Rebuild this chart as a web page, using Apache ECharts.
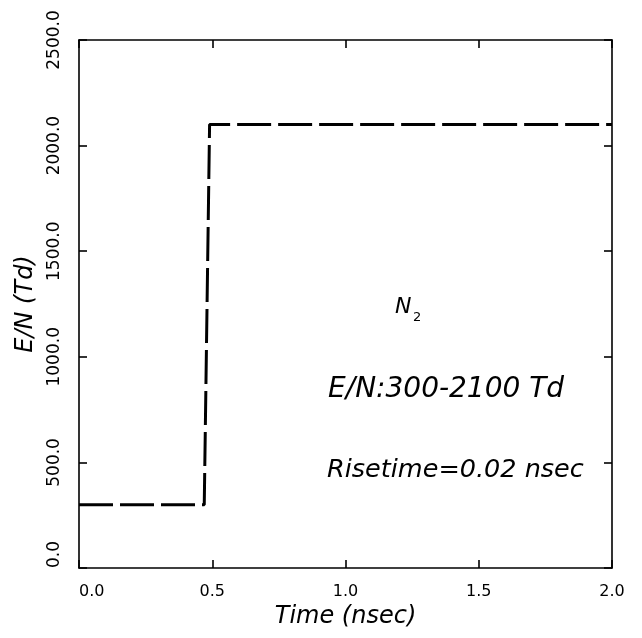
<!DOCTYPE html>
<html>
<head>
<meta charset="utf-8">
<script src="https://cdn.jsdelivr.net/npm/echarts@6/dist/echarts.min.js"></script>
<style>html,body{margin:0;padding:0;background:#fff;}#c{width:642px;height:638px;}</style>
</head>
<body>
<div id="c"></div>
<script>
// Data
var timeNs = [0.0, 0.47, 0.49, 2.0];
var eOverN = [300, 300, 2100, 2100];
var xTicks = [0.0, 0.5, 1.0, 1.5, 2.0];
var yTicks = [0.0, 500.0, 1000.0, 1500.0, 2000.0, 2500.0];
var xName = 'Time (nsec)';
var yName = 'E/N (Td)';
var noteGas = 'N';
var noteGasSub = '2';
var noteRange = 'E/N:300-2100 Td';
var noteRise = 'Risetime=0.02 nsec';

var FONT = 'DejaVu Sans';
var chart = echarts.init(document.getElementById('c'), null, {renderer: 'canvas'});
var pts = timeNs.map(function (t, i) { return [t, eOverN[i]]; });
var axLine = {show: true, onZero: false, lineStyle: {color: '#000', width: 1.6}};
var tick = {show: true, inside: true, length: 8, lineStyle: {color: '#000', width: 1.6}};

chart.setOption({
  backgroundColor: '#fff',
  animation: false,
  grid: {left: 79, right: 30, top: 40, bottom: 70},
  xAxis: [{
    type: 'value', min: xTicks[0], max: xTicks[xTicks.length - 1], interval: 0.5,
    position: 'bottom',
    axisLine: axLine, axisTick: tick, splitLine: {show: false},
    axisLabel: {color: '#000', fontFamily: FONT, fontSize: 16, margin: 16,
      alignMinLabel: 'left',
      formatter: function (v) { return v.toFixed(1); }},
    name: xName, nameLocation: 'middle', nameGap: 37,
    nameTextStyle: {color: '#000', fontFamily: FONT, fontStyle: 'italic', fontSize: 24}
  }, {
    type: 'value', min: xTicks[0], max: xTicks[xTicks.length - 1], interval: 0.5,
    position: 'top',
    axisLine: axLine, axisTick: tick, splitLine: {show: false}, axisLabel: {show: false}
  }],
  yAxis: [{
    type: 'value', min: yTicks[0], max: yTicks[yTicks.length - 1], interval: 500,
    position: 'left',
    axisLine: axLine, axisTick: tick, splitLine: {show: false},
    axisLabel: {color: '#000', fontFamily: FONT, fontSize: 17, margin: 16, rotate: 90,
      alignMinLabel: 'left',
      formatter: function (v) { return v.toFixed(1); }},
    name: yName, nameLocation: 'middle', nameGap: 40,
    nameTextStyle: {color: '#000', fontFamily: FONT, fontStyle: 'italic', fontSize: 24}
  }, {
    type: 'value', min: yTicks[0], max: yTicks[yTicks.length - 1], interval: 500,
    position: 'right',
    axisLine: axLine, axisTick: tick, splitLine: {show: false}, axisLabel: {show: false}
  }],
  series: [{
    type: 'line', data: pts, showSymbol: false, symbol: 'none',
    lineStyle: {color: '#000', width: 3, type: [34, 7], cap: 'butt'}
  }],
  graphic: [
    {type: 'text', left: 395, top: 296, style: {text: noteGas, fontFamily: FONT, fontStyle: 'italic', fontSize: 22, fill: '#000'}},
    {type: 'text', left: 413, top: 311, style: {text: noteGasSub, fontFamily: FONT, fontSize: 13, fill: '#000'}},
    {type: 'text', left: 328, top: 376, style: {text: noteRange, fontFamily: FONT, fontStyle: 'italic', fontSize: 28, fill: '#000'}},
    {type: 'text', left: 327, top: 457, style: {text: noteRise, fontFamily: FONT, fontStyle: 'italic', fontSize: 25.5, fill: '#000'}}
  ]
});
</script>
</body>
</html>
